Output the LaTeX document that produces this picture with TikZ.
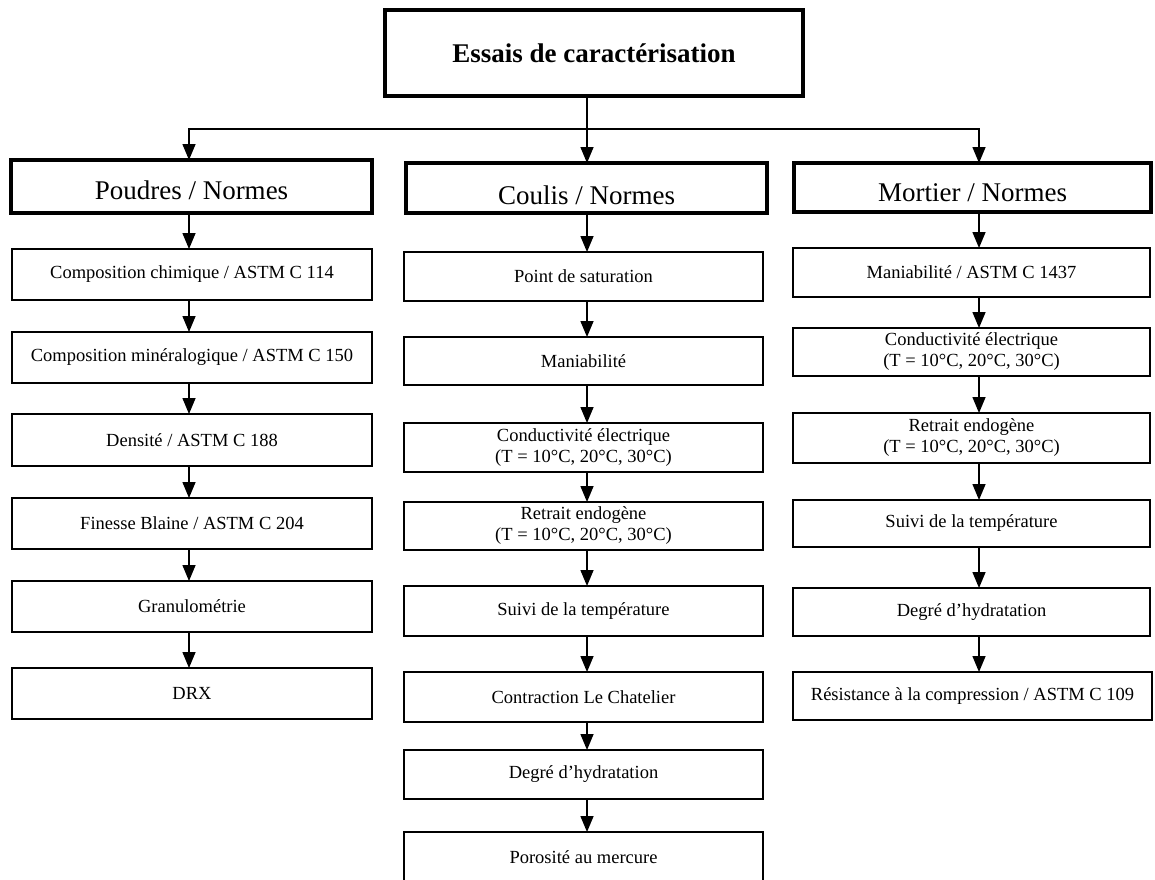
\documentclass[tikz,border=0pt]{standalone}
\usepackage{fontspec}
\setmainfont{Liberation Serif}
\usetikzlibrary{arrows.meta}
\begin{document}
\begin{tikzpicture}[x=1pt,y=-1pt,
  every node/.style={inner sep=0pt, outer sep=0pt},
  itembox/.style={draw, line width=1.4pt, align=center,
    font=\fontsize{18.5}{21}\selectfont},
  pcol/.style={itembox, minimum width=360pt},
  ccol/.style={itembox, minimum width=359pt},
  mcol/.style={itembox, minimum width=357pt},
  levelbox/.style={draw, line width=3.5pt, text depth=0pt, font=\fontsize{27}{30}\selectfont},
  titlebox/.style={draw, line width=4pt, font=\fontsize{27}{30}\selectfont\bfseries},
  arr/.style={line width=1.5pt, -{Triangle[length=16pt,width=13pt]}},
  ln/.style={line width=1.5pt}]
\clip (0,0) rectangle (1155,879);
\fill[white] (0,0) rectangle (1155,879);

% column axes for the vertical connectors
\coordinate (xp) at (189,0);
\coordinate (xc) at (587,0);
\coordinate (xm) at (979,0);
\coordinate (hub) at (587,129);

% title and the three groups
\node[titlebox, minimum width=418pt, minimum height=86pt] (top) at (594,53) {Essais de caractérisation};
\node[levelbox, text height=25pt, minimum width=361pt, minimum height=53pt] (pou) at (191.5,186.5) {Poudres / Normes};
\node[levelbox, text height=32pt, minimum width=361pt, minimum height=50pt] (cou) at (586.5,188) {Coulis / Normes};
\node[levelbox, text height=28pt, minimum width=357pt, minimum height=49pt] (mor) at (972.5,187.5) {Mortier / Normes};

\draw[ln] (top.south -| hub) -- (hub);
\draw[arr] (hub) -- (cou.north -| hub);
\draw[arr] (hub) -| (pou.north -| xp);
\draw[arr] (hub) -| (mor.north -| xm);

% Poudres
\node[pcol, minimum height=51pt] (p1) at (192,274.5) {Composition chimique / ASTM C 114};
\node[pcol, minimum height=51pt] (p2) at (192,357.5) {Composition minéralogique / ASTM C 150};
\node[pcol, minimum height=52pt] (p3) at (192,440) {Densité / ASTM C 188};
\node[pcol, minimum height=51pt] (p4) at (192,523.5) {Finesse Blaine / ASTM C 204};
\node[pcol, minimum height=51pt] (p5) at (192,606.5) {Granulométrie};
\node[pcol, minimum height=51pt] (p6) at (192,693.5) {DRX};

% Coulis
\node[ccol, minimum height=49pt] (c1) at (583.5,276.5) {Point de saturation};
\node[ccol, minimum height=48pt] (c2) at (583.5,361) {Maniabilité};
\node[ccol, minimum height=49pt] (c3) at (583.5,447.5) {Conductivité électrique\\(T = 10°C, 20°C, 30°C)};
\node[ccol, minimum height=48pt] (c4) at (583.5,526) {Retrait endogène\\(T = 10°C, 20°C, 30°C)};
\node[ccol, minimum height=50pt] (c5) at (583.5,611) {Suivi de la température};
\node[ccol, minimum height=50pt] (c6) at (583.5,697) {Contraction Le Chatelier};
\node[ccol, minimum height=49pt] (c7) at (583.5,774.5) {Degré d’hydratation};
\node[ccol, minimum height=50pt] (c8) at (583.5,857) {Porosité au mercure};

% Mortier
\node[mcol, minimum height=49pt] (m1) at (971.5,272.5) {Maniabilité / ASTM C 1437};
\node[mcol, minimum height=48pt] (m2) at (971.5,352) {Conductivité électrique\\(T = 10°C, 20°C, 30°C)};
\node[mcol, minimum height=50pt] (m3) at (971.5,438) {Retrait endogène\\(T = 10°C, 20°C, 30°C)};
\node[mcol, minimum height=47pt] (m4) at (971.5,523.5) {Suivi de la température};
\node[mcol, minimum height=48pt] (m5) at (971.5,612) {Degré d’hydratation};
\node[itembox, minimum width=359pt, minimum height=48pt] (m6) at (972.5,696) {Résistance à la compression / ASTM C 109};

% vertical chains
\foreach \a/\b in {pou/p1,p1/p2,p2/p3,p3/p4,p4/p5,p5/p6}
  \draw[arr] (\a.south -| xp) -- (\b.north -| xp);
\foreach \a/\b in {cou/c1,c1/c2,c2/c3,c3/c4,c4/c5,c5/c6,c6/c7,c7/c8}
  \draw[arr] (\a.south -| xc) -- (\b.north -| xc);
\foreach \a/\b in {mor/m1,m1/m2,m2/m3,m3/m4,m4/m5,m5/m6}
  \draw[arr] (\a.south -| xm) -- (\b.north -| xm);
\end{tikzpicture}
\end{document}
